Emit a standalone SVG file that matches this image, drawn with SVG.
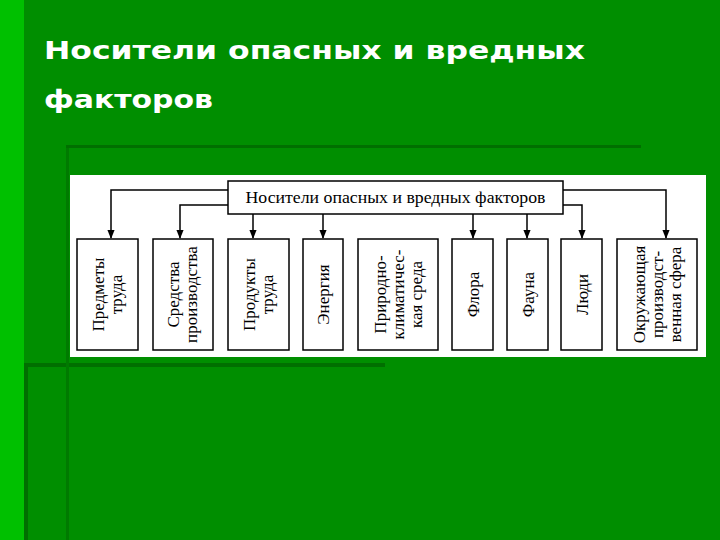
<svg xmlns="http://www.w3.org/2000/svg" width="720" height="540" viewBox="0 0 720 540">
<defs>
<style>
.t{font-family:"Liberation Serif",serif;font-size:17px;fill:#000}
.b{fill:#fff;stroke:#000;stroke-width:1.5}
.c{fill:none;stroke:#000;stroke-width:1.5}
.title{font-family:"DejaVu Sans",Verdana,sans-serif;font-size:24px;font-weight:bold;fill:#fff}
</style>
<marker id="a" viewBox="0 0 10 10" refX="9" refY="5" markerWidth="6" markerHeight="6" orient="auto"><path d="M0,1 L10,5 L0,9 z" fill="#000"/></marker>
</defs>
<rect width="720" height="540" fill="#008e00"/>
<rect width="24" height="540" fill="#00c000"/>
<rect x="24" y="365" width="4" height="175" fill="#006f00"/>
<rect x="24" y="363" width="361" height="4" fill="#006f00"/>
<rect x="66" y="145" width="3" height="395" fill="#007a00"/>
<rect x="66" y="145" width="575" height="3" fill="#006f00"/>
<text class="title" x="44" y="59" textLength="541" lengthAdjust="spacingAndGlyphs">Носители опасных и вредных</text>
<text class="title" x="44" y="108" textLength="169" lengthAdjust="spacingAndGlyphs">факторов</text>
<rect x="70" y="175" width="636" height="182" fill="#fff"/>
<g id="connectors">
<path class="c" d="M228,190 H111 V238" marker-end="url(#a)"/>
<path class="c" d="M228,205 H180 V238" marker-end="url(#a)"/>
<path class="c" d="M253,214 V238" marker-end="url(#a)"/>
<path class="c" d="M323,214 V238" marker-end="url(#a)"/>
<path class="c" d="M473,214 V238" marker-end="url(#a)"/>
<path class="c" d="M527,214 V238" marker-end="url(#a)"/>
<path class="c" d="M563,205 H582 V238" marker-end="url(#a)"/>
<path class="c" d="M563,190 H666 V238" marker-end="url(#a)"/>
</g>
<g id="root"><rect class="b" x="228" y="181" width="335" height="33"/><text class="t" x="395.5" y="203" text-anchor="middle" textLength="300" lengthAdjust="spacingAndGlyphs">Носители опасных и вредных факторов</text></g>
<g id="n1"><rect class="b" x="77" y="239" width="61" height="111"/><text class="t" transform="translate(107.5,294.5) rotate(-90)" text-anchor="middle"><tspan x="0" y="-4">Предметы</tspan><tspan x="0" y="14">труда</tspan></text></g>
<g id="n2"><rect class="b" x="153" y="239" width="60" height="111"/><text class="t" transform="translate(183,294.5) rotate(-90)" text-anchor="middle"><tspan x="0" y="-4">Средства</tspan><tspan x="0" y="14">производства</tspan></text></g>
<g id="n3"><rect class="b" x="228" y="239" width="61" height="111"/><text class="t" transform="translate(258.5,294.5) rotate(-90)" text-anchor="middle"><tspan x="0" y="-4">Продукты</tspan><tspan x="0" y="14">труда</tspan></text></g>
<g id="n4"><rect class="b" x="303" y="239" width="40" height="111"/><text class="t" transform="translate(323,294.5) rotate(-90)" text-anchor="middle"><tspan x="0" y="6">Энергия</tspan></text></g>
<g id="n5"><rect class="b" x="358" y="239" width="80" height="111"/><text class="t" transform="translate(398,294.5) rotate(-90)" text-anchor="middle"><tspan x="0" y="-12">Природно-</tspan><tspan x="0" y="6">климатичес-</tspan><tspan x="0" y="24">кая среда</tspan></text></g>
<g id="n6"><rect class="b" x="452" y="239" width="41" height="111"/><text class="t" transform="translate(472.5,294.5) rotate(-90)" text-anchor="middle"><tspan x="0" y="6">Флора</tspan></text></g>
<g id="n7"><rect class="b" x="507" y="239" width="41" height="111"/><text class="t" transform="translate(527.5,294.5) rotate(-90)" text-anchor="middle"><tspan x="0" y="6">Фауна</tspan></text></g>
<g id="n8"><rect class="b" x="561" y="239" width="41" height="111"/><text class="t" transform="translate(581.5,294.5) rotate(-90)" text-anchor="middle"><tspan x="0" y="6">Люди</tspan></text></g>
<g id="n9"><rect class="b" x="617" y="239" width="80" height="111"/><text class="t" transform="translate(657,294.5) rotate(-90)" text-anchor="middle"><tspan x="0" y="-12">Окружающая</tspan><tspan x="0" y="6">производст-</tspan><tspan x="0" y="24">венная сфера</tspan></text></g>
</svg>
